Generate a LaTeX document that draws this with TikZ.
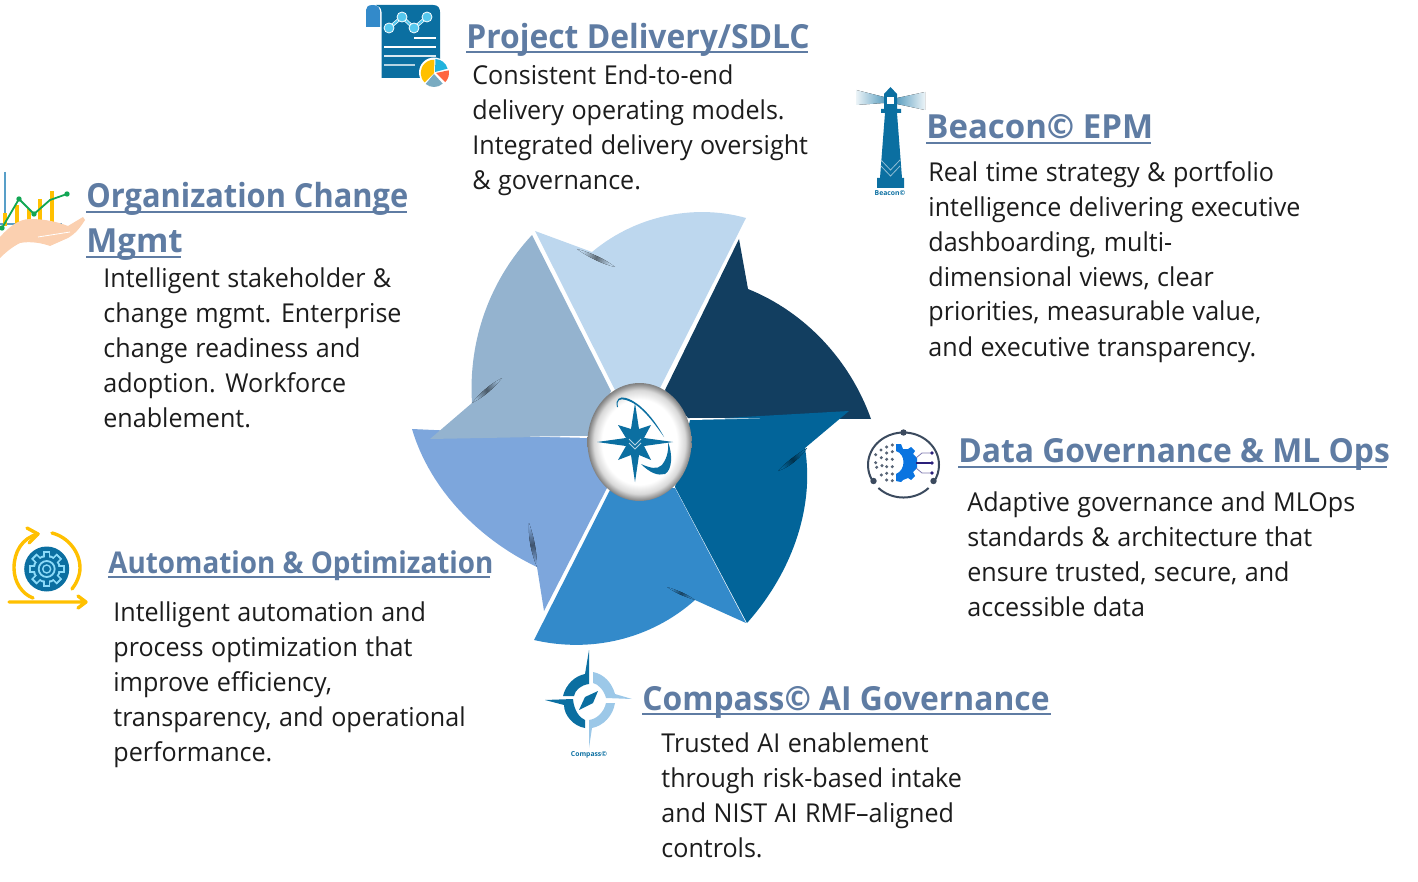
\documentclass[tikz,border=0pt]{standalone}
\usepackage{fontspec}
\setmainfont{Open Sans}
\newfontfamily\bodyfam{Open Sans}[FakeStretch=0.965,WordSpace=1.15]
\newfontfamily\headA{Open Sans}[FakeStretch=0.958]
\newfontfamily\headB{Open Sans}[FakeStretch=0.928]
\newfontfamily\headC{Open Sans}[FakeStretch=0.993]
\usetikzlibrary{arrows.meta,shapes.geometric}
\definecolor{cLight}{HTML}{BDD7EE}
\definecolor{cNavy}{HTML}{123E60}
\definecolor{cDeep}{HTML}{026499}
\definecolor{cMid}{HTML}{338ACA}
\definecolor{cPeri}{HTML}{7DA6DC}
\definecolor{cSteel}{HTML}{94B3CF}
\definecolor{cTitle}{HTML}{5F7CA3}
\definecolor{cInk}{HTML}{1C1C1C}
\definecolor{cIcon}{HTML}{0B6FA1}
\definecolor{cSun}{HTML}{FFC000}
\definecolor{cGreen}{HTML}{12A654}
\definecolor{cSkin}{HTML}{FBD0B0}
\definecolor{cChart}{HTML}{55C8EE}
\definecolor{cRing}{HTML}{3B4A5E}
\definecolor{cGearBlue}{HTML}{0A74E0}
\definecolor{cWire}{HTML}{2A1F7A}
\definecolor{cCompL}{HTML}{9CC8E8}
\pgfdeclareradialshading{hubshade}{\pgfpoint{0bp}{0bp}}{color(0bp)=(white);color(18bp)=(white);color(22bp)=(black!15);color(25bp)=(black!50);color(50bp)=(black!50)}
\tikzset{
  bodytext/.style={font=\bodyfam\fontsize{13}{17.5}\selectfont,text=cInk,align=left,inner sep=0pt,anchor=base west},
  headtext/.style={font=#1\bfseries,text=cTitle,align=left,inner sep=0pt,anchor=base west},
  headline/.style={draw=cTitle,line width=0.8pt},
  sliver/.style={left color=#1,right color=#1,middle color=black!50!#1},
  tiny label/.style={font=\fontsize{3.4}{4}\selectfont\bfseries,text=cIcon,inner sep=0pt}
}
\newcommand{\szL}{\fontsize{16.6}{22.5}\selectfont}
\newcommand{\szS}{\fontsize{15}{22.5}\selectfont}
\begin{document}
\begin{tikzpicture}[x=0.5pt,y=-0.5pt]
\useasboundingbox (0,0) rectangle (1418,882);
% ---- wheel
\fill[cLight] (535,231) -- (592,252) .. controls (640,212) and (700,205) .. (746,218) -- (660,388) -- (615,390) -- cycle;
\fill[cNavy] (665,390) -- (739,239) -- (748,289) .. controls (805,312) and (850,360) .. (871,419) -- (688,418) -- cycle;
\fill[cDeep] (849,411) -- (690,420) -- (675,487) -- (747,623) .. controls (790,575) and (815,510) .. (805,448) -- cycle;
\fill[cMid] (675,488) -- (746,623) -- (695,600) .. controls (650,640) and (590,653) .. (534,640) -- (610,490) -- cycle;
\fill[cPeri] (412,429) -- (588,437) -- (607,488) -- (544,611) -- (537,567) .. controls (480,540) and (430,490) .. (412,429) -- cycle;
\fill[cSteel] (430,439) -- (472,403) .. controls (468,340) and (490,280) .. (532,235) -- (611,391) -- (590,436) -- cycle;
\fill[white] (590,436) -- (530,436.5) -- (590,438) -- cycle;
\fill[white] (690,418) -- (760,418.5) -- (690,420) -- cycle;
% ---- folds
\fill[sliver=cLight,shading angle=65] (577,249) .. controls (592,253) and (605,259) .. (615,267) .. controls (602,264) and (588,257) .. (577,249) -- cycle;
\fill[sliver=cSteel,shading angle=130] (502,378) .. controls (490,384) and (480,393) .. (472,403) .. controls (484,397) and (494,388) .. (502,378) -- cycle;
\fill[sliver=cPeri,shading angle=10] (529,523) .. controls (528,540) and (532,555) .. (537,567) .. controls (537,552) and (534,537) .. (529,523) -- cycle;
\fill[sliver=cMid,shading angle=65] (667,587) .. controls (677,594) and (686,597) .. (695,600) .. controls (687,594) and (677,590) .. (667,587) -- cycle;
\fill[sliver=cDeep,shading angle=128] (778,471) .. controls (790,467) and (800,458) .. (807,448) .. controls (797,454) and (786,462) .. (778,471) -- cycle;
% ---- hub
\node[ellipse,minimum width=52pt,minimum height=59pt,inner sep=0pt,shade,shading=hubshade] (hub) at (639.5,442) {};
\fill[cIcon] (635,403) -- (639,429) -- (651,425) -- (644,438) -- (673,442) -- (644,446) -- (651,460) -- (639,455) -- (635,482) -- (631,455) -- (618,460) -- (626,446) -- (597,442) -- (626,438) -- (618,425) -- (631,429) -- cycle;
\draw[white!70!cIcon,line width=0.5pt] (629,439) -- (635,445) -- (641,439) (629,443) -- (635,449) -- (641,443);
\fill[cIcon] (617,407) .. controls (615,399) and (620,396) .. (626,398) .. controls (640,402) and (655,420) .. (664,437) .. controls (652,420) and (640,404) .. (626,400) .. controls (620,398) and (616,400) .. (618,407) -- cycle;
\fill[cIcon] (668,442) .. controls (673,455) and (672,470) .. (665,474) .. controls (658,476) and (650,473) .. (641,464) .. controls (650,468) and (657,470) .. (662,465) .. controls (666,460) and (669,452) .. (668,442) -- cycle;
% ---- document icon
\fill[cIcon] (380,5) -- (433,5) .. controls (438,5) and (440,8) .. (440,12) -- (440,78) -- (381.5,78) -- (381.5,12) .. controls (381.5,8) and (379,6) .. (376,5) -- cycle;
\fill[cMid] (366,27) -- (366,10) .. controls (366,7) and (368,5) .. (373,5) .. controls (378,5) and (380,8) .. (380,12) -- (380,27) -- cycle;
\draw[white,line width=1.7pt] (389,28) -- (402,17) -- (414,28) -- (427,17);
\draw[cChart,line width=1pt] (389,28) -- (402,17) -- (414,28) -- (427,17);
\foreach \px/\py in {389/28,402/17,414/28,427/17} \fill[cChart,draw=white,line width=0.4pt] (\px,\py) circle (5);
\draw[white,line width=0.6pt] (414,38) -- (436,38);
\draw[white,line width=1.1pt] (384,47) -- (436,47);
\draw[white!85!cIcon,line width=0.7pt] (384,56) -- (436,56);
\draw[white!70!cIcon,line width=0.9pt] (384,65) -- (415,65);
\fill[white] (434,72.5) circle (15);
\fill[cSun] (434,73) -- +(135:13.3) arc[start angle=135,end angle=272,radius=13.3] -- cycle;
\fill[cMid!65!cyan] (435,72) -- +(-88:13) arc[start angle=-88,end angle=-15,radius=13] -- cycle;
\fill[red!60!orange!75!white] (436,73) -- +(-12:13) arc[start angle=-12,end angle=45,radius=13] -- cycle;
\fill[cyan!60!black!65!white] (434,74) -- +(48:13) arc[start angle=48,end angle=130,radius=13] -- cycle;
% ---- lighthouse icon
\fill[left color=cIcon!65!white,right color=cIcon!8!white,shading angle=270] (884,97) -- (884,103) -- (856,105) -- (856,90) -- cycle;
\fill[left color=cIcon!8!white,right color=cIcon!65!white,shading angle=270] (925,92) -- (925,110) -- (897,104) -- (897,98) -- cycle;
\fill[cIcon] (890.5,87) -- (897,94) -- (897,109) -- (901,109) -- (901,113) -- (897,113) -- (902,178) -- (904,178) -- (904,188) -- (877,188) -- (877,178) -- (880,178) -- (885,113) -- (881,113) -- (881,109) -- (884,109) -- (884,94) -- cycle;
\fill[white] (887,97) rectangle (894,104);
\draw[white!55!cIcon,line width=0.4pt] (881,160) -- (890.5,170) -- (900,160) (881,166) -- (890.5,176) -- (900,166);
\node[tiny label] (beaconmark) at (890,193) {Beacon©};
% ---- hand & chart icon
\draw[cyan!40!cIcon!80!white,line width=0.7pt] (5,172) -- (5,224) (0,224) -- (62,224);
\foreach \bx/\by in {5/213,17/205,29/209,40/199,52/191} \fill[cSun] (\bx-2,\by) rectangle (\bx+2,226);
\draw[cGreen,line width=0.9pt] (2,228) -- (19,199) -- (34,214) -- (50,200) -- (67,194);
\foreach \gx/\gy in {2/228,19/199,34/214,67/194} \fill[cGreen] (\gx,\gy) circle (2.7);
\fill[cSkin] (0,237) .. controls (8,228) and (18,219) .. (30,219) .. controls (45,219) and (58,222) .. (68,226) -- (83,217) -- (85,220) .. controls (80,228) and (75,234) .. (68,238) -- (50,246) .. controls (42,243) and (30,241) .. (20,243) .. controls (12,247) and (5,253) .. (0,258) -- cycle;
\draw[white,line width=0.4pt] (38,237) -- (70,232) (62,223) -- (78,218);
% ---- gear icon
\draw[cSun,line width=1.7pt,line cap=round] (52,533) .. controls (68,537) and (80,552) .. (80,568) .. controls (80,576) and (76,584) .. (72,589);
\draw[cSun,line width=1.7pt,line cap=round] (38,534) .. controls (22,538) and (14,552) .. (14,568) .. controls (14,582) and (22,594) .. (33,598);
\draw[cSun,line width=1.7pt,line cap=round,line join=round] (27,528) -- (38,534) -- (29,543);
\draw[cSun,line width=1.7pt,line cap=round,line join=round] (9,602) -- (86,602) (78,596) -- (86,602) -- (78,608);
\fill[cIcon] (46.7,569) circle (22.5);
\foreach \ang in {0,45,...,315} \fill[cyan!45!white,rotate around={\ang:(46.7,569)}] (43,551) rectangle (50.4,587);
\fill[cyan!45!white] (46.7,569) circle (14);
\foreach \ang in {0,45,...,315} \fill[cIcon,rotate around={\ang:(46.7,569)}] (44.7,553) rectangle (48.7,585);
\fill[cIcon] (46.7,569) circle (12);
\draw[cyan!45!white,line width=0.9pt] (46.7,569) circle (8);
\draw[cyan!45!white,line width=0.7pt] (46.7,569) circle (4);
% ---- data icon
\draw[cRing,line width=1pt] (903.5,432.5) arc[start angle=-90,end angle=32,x radius=35.5,y radius=32.5];
\draw[cRing,line width=1pt] (873.4,482.2) arc[start angle=148,end angle=270,x radius=35.5,y radius=32.5];
\draw[cRing,line width=1pt] (928.6,488) arc[start angle=45,end angle=135,x radius=35.5,y radius=32.5];
\foreach \dx/\dy in {903.5/432.5,873.5/481,933.5/481} \fill[cRing] (\dx,\dy) circle (3.2);
\foreach \zx/\zy in {97/60,80/66,63/75,47/89,97/80,80/84,64/98,47/113,97/103,80/103,66/122,50/127,80/125,97/125,64/150,80/145,97/147,80/165,97/167}
  \fill[cRing!85!white] ({860+\zx/3},{425+\zy/3}) circle (1.7);
\fill[cGearBlue] (896,444) -- (901,444) -- (903,449) -- (908,449) -- (911,447) -- (915,451) -- (913,454) -- (917,458) -- (917,468) -- (913,472) -- (915,476) -- (911,480) -- (908,478) -- (903,480) -- (901,482) -- (896,481) -- (896,474) .. controls (906,470) and (906,454) .. (896,451) -- cycle;
\draw[cWire!60!white,line width=0.4pt] (916,458) -- (922,453) -- (932,453) (916,468) -- (922,473) -- (932,473);
\draw[cWire,line width=0.8pt] (916,463) -- (932,463);
\foreach \dy in {453,463,473} \fill[cWire] (932,\dy) circle (1.8);
% ---- compass icon
\fill[cIcon] (563,696) .. controls (566,684) and (575,676) .. (585,674) -- (589,650) -- (589,684) .. controls (581,685) and (575,690) .. (574,696) -- cycle;
\fill[cIcon] (545,700) -- (573,699) .. controls (574,711) and (580,718) .. (585,720) -- (585,728) .. controls (573,726) and (564,715) .. (564,705) -- cycle;
\fill[cCompL] (593,672) .. controls (604,674) and (612,683) .. (615,694) -- (632,699) -- (606,698) .. controls (604,690) and (598,684) .. (593,683) -- cycle;
\fill[cCompL] (606,703) -- (615,703) .. controls (613,716) and (603,726) .. (592,728) -- (589,748) -- (589,720) .. controls (597,719) and (604,712) .. (606,703) -- cycle;
\fill[cIcon] (598,691) -- (593,703) -- (579,710) -- (585,697) -- cycle;
\node[tiny label] (compassmark) at (589,755) {Compass©};
% ---- headings
\node[headtext=\headA\szL] (h1) at (466,49) {Project Delivery/SDLC};
\draw[headline] (466,52) -- (808,52);
\node[headtext=\headC\szL] (h2) at (926,139) {Beacon© EPM};
\draw[headline] (926,143) -- (1151,143);
\node[headtext=\headB\szL] (h3) at (86,208) {Organization Change};
\draw[headline] (86,212) -- (407,212);
\node[headtext=\headC\szL] (h3b) at (86,253) {Mgmt};
\draw[headline] (86,257) -- (181,257);
\node[headtext=\headA\szL] (h4) at (958,462.5) {Data Governance \& ML Ops};
\draw[headline] (958,467) -- (1387,467);
\node[headtext=\headB\szS] (h5) at (108,573) {Automation \& Optimization};
\draw[headline] (108,577) -- (490,577);
\node[headtext=\headA\szL] (h6) at (642,710) {Compass© AI Governance};
\draw[headline] (642,714) -- (1051,714);
% ---- paragraphs
\node[bodytext] (p1) at (472,190) {Consistent End-to-end\\delivery operating models.\\Integrated delivery oversight\\\& governance.};
\node[bodytext] (p2) at (928,356) {Real time strategy \& portfolio\\intelligence delivering executive\\dashboarding, multi-\\dimensional views, clear\\priorities, measurable value,\\and executive transparency.};
\node[bodytext] (p3) at (103,427) {Intelligent stakeholder \&\\change mgmt. Enterprise\\change readiness and\\adoption. Workforce\\enablement.};
\node[bodytext] (p4) at (967,616) {Adaptive governance and MLOps\\standards \& architecture that\\ensure trusted, secure, and\\accessible data};
\node[bodytext] (p5) at (113,761) {Intelligent automation and\\process optimization that\\improve efficiency,\\transparency, and operational\\performance.};
\node[bodytext] (p6) at (661,857) {Trusted AI enablement\\through risk-based intake\\and NIST AI RMF–aligned\\controls.};
\end{tikzpicture}
\end{document}
